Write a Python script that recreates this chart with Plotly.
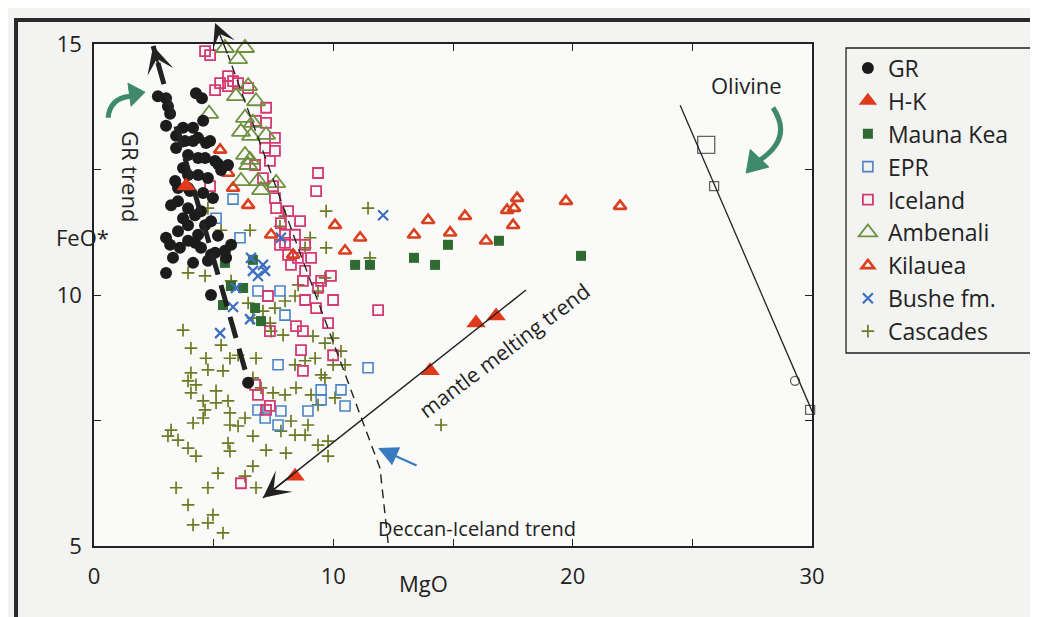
import plotly.graph_objects as go

# ---------------- data (MgO, FeO*) ----------------
gr_mgo = [2.67, 3.01, 3.09, 3.18, 4.26, 4.51, 4.56, 3.01, 3.43, 3.80, 4.35, 4.68, 3.43, 3.93, 4.35, 5.18,
          5.60, 3.72, 3.93, 3.39, 3.93, 4.35, 4.64, 4.01, 3.51, 3.22, 3.93, 4.22, 4.47, 4.89, 4.64, 3.51,
          3.93, 4.35, 3.93, 3.18, 3.01, 3.59, 4.47, 4.22, 4.89, 5.52, 5.73, 5.06, 5.47, 4.76, 3.01, 4.89,
          6.44, 5.31, 4.85, 4.14, 5.06, 3.72, 4.14, 4.76, 4.97, 4.56, 3.72, 3.30, 4.14, 3.51, 5.18]
gr_feo = [13.96, 13.92, 13.76, 13.61, 14.02, 13.92, 13.47, 13.37, 13.17, 13.07, 13.13, 13.03, 12.93, 12.79, 12.73, 12.61,
          12.59, 12.53, 12.39, 12.27, 12.13, 12.39, 12.73, 12.07, 11.87, 11.79, 11.73, 11.59, 11.67, 11.47, 11.39, 11.27,
          11.39, 11.20, 11.08, 11.00, 11.14, 10.94, 10.94, 11.04, 10.80, 10.74, 11.00, 10.84, 10.88, 10.68, 10.44, 10.00,
          8.25, 12.49, 13.07, 13.07, 12.67, 13.33, 13.33, 12.33, 11.93, 12.03, 11.53, 10.74, 10.64, 12.13, 11.18]

hk_mgo = [8.40, 14.04, 15.96, 16.80, 3.85]
hk_feo = [6.39, 8.49, 9.44, 9.58, 12.17]

mk_mgo = [5.47, 6.64, 5.72, 6.23, 5.39, 6.73, 6.98, 10.91, 11.53, 13.37, 14.25, 14.79, 16.92, 20.35]
mk_feo = [10.64, 10.70, 10.18, 10.14, 9.80, 9.74, 9.48, 10.60, 10.60, 10.74, 10.60, 11.00, 11.08, 10.78]

epr_mgo = [5.81, 5.10, 6.10, 6.85, 7.77, 7.98, 7.69, 11.45, 9.49, 9.49, 10.32, 10.49, 6.85, 7.15, 7.81, 7.69, 8.94]
epr_feo = [11.91, 11.53, 11.14, 10.08, 10.08, 9.60, 8.61, 8.55, 8.11, 7.91, 8.11, 7.79, 7.71, 7.55, 7.69, 7.41, 7.69]

ice_mgo = [4.64, 4.85, 5.06, 5.27, 5.60, 5.81, 5.60, 6.02, 6.44, 7.19, 7.19, 6.77, 7.56, 7.56, 7.15, 7.35,
           4.85, 9.36, 9.28, 6.73, 7.06, 7.48, 7.56, 7.61, 8.11, 8.61, 7.81, 7.98, 8.40, 8.82, 7.98, 8.11,
           8.52, 8.23, 8.82, 9.07, 9.90, 9.49, 7.77, 8.73, 9.36, 9.99, 8.82, 9.28, 9.78, 8.44, 8.73, 7.27,
           7.35, 8.65, 9.99, 8.73, 6.73, 6.85, 7.35, 11.87, 6.14, 7.19]
ice_feo = [14.86, 14.78, 14.08, 14.22, 14.36, 14.26, 14.16, 14.22, 14.12, 13.73, 13.43, 13.47, 13.13, 12.87, 12.93, 12.67,
           12.17, 12.43, 12.07, 12.59, 12.33, 12.17, 11.93, 11.73, 11.67, 11.47, 11.43, 11.20, 11.20, 11.00, 11.04, 10.80,
           10.74, 10.60, 10.48, 10.74, 10.38, 10.28, 11.00, 10.28, 10.14, 9.90, 9.90, 9.74, 9.44, 9.38, 9.28, 9.98,
           9.28, 8.90, 8.80, 8.49, 8.21, 8.01, 7.79, 9.70, 6.25, 7.71]

amb_mgo = [6.31, 6.02, 5.47, 6.44, 5.93, 6.77, 4.81, 6.31, 6.64, 6.14, 7.19, 6.56, 6.31, 6.52, 6.85, 7.61, 6.98, 6.44, 6.14]
amb_feo = [14.92, 14.70, 14.92, 14.16, 13.96, 13.86, 13.61, 13.53, 13.43, 13.25, 13.19, 13.17, 12.79, 12.69, 12.27, 12.23, 12.09, 12.59, 12.27]

kil_mgo = [5.27, 5.60, 5.81, 6.44, 7.40, 8.32, 10.07, 11.12, 10.49, 13.37, 13.96, 14.88, 15.50, 16.38, 17.26, 17.55, 17.68, 17.51, 19.72, 21.98]
kil_feo = [12.89, 12.43, 12.13, 11.79, 11.20, 10.80, 11.39, 11.14, 10.88, 11.20, 11.49, 11.24, 11.57, 11.08, 11.69, 11.73, 11.93, 11.39, 11.87, 11.77]

bushe_mgo = [12.08, 7.81, 6.56, 7.06, 6.64, 7.15, 6.85, 5.93, 5.81, 6.52, 5.27]
bushe_feo = [11.59, 11.14, 10.74, 10.60, 10.48, 10.48, 10.38, 10.14, 9.76, 9.52, 9.24]

casc_mgo = [4.76, 5.31, 6.52, 7.77, 7.98, 9.70, 11.45, 9.03, 8.82, 9.70, 3.93, 4.64, 5.73, 8.53, 9.36, 9.65, 11.53,
            6.44, 7.98, 8.40, 7.56, 6.64, 7.06, 7.36, 7.40, 7.90, 3.72, 4.05, 4.68, 5.31, 5.68, 6.02, 6.77, 4.05,
            4.76, 5.39, 3.93, 4.26, 4.05, 4.56, 5.10, 5.60, 6.64, 6.98, 7.48, 7.98, 8.40, 8.82, 9.15, 9.24, 9.65,
            9.99, 8.44, 9.07, 9.65, 9.99, 10.49, 10.32, 9.49, 10.07, 5.10, 4.64, 5.68, 6.31, 4.56, 4.14, 3.22,
            3.09, 3.51, 5.68, 6.02, 6.64, 3.93, 4.26, 5.60, 5.68, 7.19, 8.02, 9.36, 9.78, 5.18, 6.64, 6.31, 3.43,
            4.76, 6.77, 3.93, 4.97, 4.14, 4.76, 5.39, 8.40, 8.82, 8.23, 7.81, 9.36, 8.94, 14.50, 9.78]
casc_feo = [11.73, 11.29, 11.29, 11.37, 11.57, 11.67, 11.73, 11.14, 10.94, 10.94, 10.44, 10.38, 10.28, 10.20, 10.08, 10.34, 10.74,
            9.84, 9.88, 9.98, 9.74, 9.54, 9.68, 9.44, 9.28, 9.20, 9.30, 8.94, 8.74, 9.00, 8.74, 8.80, 8.74, 8.45,
            8.51, 8.49, 8.29, 8.21, 8.05, 7.89, 8.09, 7.89, 8.35, 8.15, 8.05, 8.01, 8.61, 8.69, 9.18, 8.74, 9.04,
            9.14, 8.15, 8.01, 8.35, 8.61, 8.61, 8.88, 8.41, 7.95, 7.85, 7.71, 7.65, 7.55, 7.55, 7.45, 7.31,
            7.19, 7.11, 7.41, 7.39, 7.19, 6.95, 6.79, 7.05, 6.89, 6.91, 6.85, 7.01, 6.79, 6.45, 6.59, 6.39, 6.16,
            6.16, 6.16, 5.82, 5.62, 5.42, 5.46, 5.26, 7.21, 7.21, 7.49, 7.29, 7.81, 7.41, 7.41, 7.09]

# olivine compositions and control line
oliv_mgo = [25.58, 25.91, 29.29, 29.92]
oliv_feo = [12.99, 12.17, 8.29, 7.71]
oliv_line_mgo = [24.49, 30.09]
oliv_line_feo = [13.78, 7.59]

# trend lines (tail ... tip)
gr_trend_mgo = [6.31, 2.47]
gr_trend_feo = [8.51, 14.96]
deccan_trend_mgo = [12.29, 11.95, 8.53, 5.60, 5.06]
deccan_trend_feo = [5.06, 6.55, 10.94, 14.78, 15.42]
mantle_trend_mgo = [18.05, 7.06]
mantle_trend_feo = [10.10, 5.96]

x_ticks = [0, 5, 10, 15, 20, 25, 30]
x_ticktext = ["0", "", "10", "", "20", "", "30"]
y_ticks = [5, 7.5, 10, 12.5, 15]
y_ticktext = ["5", "", "10", "", "15"]

FONT = "Open Sans"

fig = go.Figure()

def add(name, x, y, symbol, color, size, lw=0, rank=1):
    fig.add_trace(go.Scatter(
        x=x, y=y, mode="markers", name=name, legendrank=rank, cliponaxis=False,
        marker=dict(symbol=symbol, color=color, size=size,
                    line=dict(width=lw, color=color)),
    ))

add("Cascades", casc_mgo, casc_feo, "cross-thin-open", "#6b7a25", 9, 1.7, 9)
add("EPR", epr_mgo, epr_feo, "square-open", "#4a84c6", 10, 1.6, 4)
add("Iceland", ice_mgo, ice_feo, "square-open", "#d43a70", 10, 1.8, 5)
add("Ambenali", amb_mgo, amb_feo, "triangle-up-open", "#6e9140", 16, 1.8, 6)
add("Mauna Kea", mk_mgo, mk_feo, "square", "#2f6a33", 10, 0, 3)
add("Bushe fm.", bushe_mgo, bushe_feo, "x-thin-open", "#3d6fbf", 10, 2.2, 8)
add("Kilauea", kil_mgo, kil_feo, "triangle-up-open", "#d8401f", 11, 2.6, 7)
add("GR", gr_mgo, gr_feo, "circle", "#1c1c1c", 12, 0, 1)
add("H-K", hk_mgo, hk_feo, "triangle-up", "#e0391c", 17, 0, 2)

# olivine line and points
fig.add_trace(go.Scatter(x=oliv_line_mgo, y=oliv_line_feo, mode="lines", showlegend=False,
                         line=dict(color="#222", width=1.3), hoverinfo="skip"))
fig.add_trace(go.Scatter(x=oliv_mgo, y=oliv_feo, mode="markers", showlegend=False, cliponaxis=False,
                         marker=dict(symbol=["square-open", "square-open", "circle-open", "square-open"],
                                     size=[17, 9, 9, 9], color="#222", line=dict(width=1.3, color="#222"))))

# trend lines
fig.add_trace(go.Scatter(x=gr_trend_mgo, y=gr_trend_feo, mode="lines", showlegend=False,
                         line=dict(color="#222", width=5, dash="22px,11px"), hoverinfo="skip"))
fig.add_trace(go.Scatter(x=deccan_trend_mgo[:-1], y=deccan_trend_feo[:-1], mode="lines", showlegend=False,
                         line=dict(color="#222", width=1.4, dash="9px,6px"), hoverinfo="skip"))
fig.add_trace(go.Scatter(x=mantle_trend_mgo, y=mantle_trend_feo, mode="lines", showlegend=False,
                         line=dict(color="#222", width=1.5), hoverinfo="skip"))

def head(xs, ys, width, size, frac):
    tx, ty = xs[-1], ys[-1]
    px, py = xs[-2], ys[-2]
    return dict(x=tx, y=ty, ax=tx + (px - tx) * frac, ay=ty + (py - ty) * frac,
                xref="x", yref="y", axref="x", ayref="y", showarrow=True, text="",
                arrowhead=3, arrowwidth=width, arrowsize=size, arrowcolor="#222")

anns = [
    head(gr_trend_mgo, gr_trend_feo, 2.5, 1.8, 0.09),
    head(deccan_trend_mgo, deccan_trend_feo, 1.4, 2.8, 1.0),
    head(mantle_trend_mgo, mantle_trend_feo, 1.5, 3.0, 0.12),
    # blue pointer to Deccan-Iceland trend
    dict(x=11.87, y=6.95, ax=13.54, ay=6.59, xref="x", yref="y", axref="x", ayref="y",
         showarrow=True, text="", arrowhead=2, arrowwidth=2.2, arrowsize=1.8, arrowcolor="#3a7abf"),
    dict(x=17.17, y=8.90, xref="x", yref="y", text="mantle melting trend", showarrow=False,
         textangle=-37, font=dict(family=FONT, size=21, color="#222")),
    dict(x=1.55, y=12.37, xref="x", yref="y", text="GR trend", showarrow=False,
         textangle=90, font=dict(family=FONT, size=22, color="#222")),
    dict(x=27.25, y=14.18, xref="x", yref="y", text="Olivine", showarrow=False,
         font=dict(family=FONT, size=22, color="#222")),
    dict(x=16.0, y=5.35, xref="x", yref="y", text="Deccan-Iceland trend", showarrow=False,
         font=dict(family=FONT, size=20, color="#222")),
    dict(x=-0.056, y=0.615, xref="paper", yref="paper", text="FeO*", showarrow=False,
         font=dict(family=FONT, size=22, color="#222")),
    dict(x=13.75, y=-0.108, xref="x", yref="paper", text="MgO", showarrow=False,
         font=dict(family=FONT, size=22, color="#222")),
]

shapes = [
    # outer frame
    dict(type="rect", xref="paper", yref="paper", x0=-0.1086, x1=1.3357, y0=-0.1474, y1=1.0478,
         line=dict(color="#2a2a2a", width=4), layer="below"),
    # legend box
    dict(type="rect", xref="paper", yref="paper", x0=1.0474, x1=1.3357, y0=0.3845, y1=0.992,
         line=dict(color="#222", width=1.3)),
    # green curved arrows
    dict(type="path", xref="x", yref="y", path="M 0.585,13.53 Q 0.669,13.92 1.504,13.96",
         line=dict(color="#3f8a6c", width=5)),
    dict(type="path", xref="x", yref="y", path="M 2.13,14.04 L 1.42,14.22 L 1.55,13.76 Z",
         fillcolor="#3f8a6c", line=dict(color="#3f8a6c", width=1)),
    dict(type="path", xref="x", yref="y", path="M 28.37,13.73 Q 29.21,13.13 27.83,12.69",
         line=dict(color="#3f8a6c", width=5)),
    dict(type="path", xref="x", yref="y", path="M 27.25,12.43 L 27.42,12.90 L 28.20,12.55 Z",
         fillcolor="#3f8a6c", line=dict(color="#3f8a6c", width=1)),
]

axis_common = dict(showline=True, linecolor="#222", linewidth=1.5, mirror="ticks", ticks="inside",
                   ticklen=7, tickwidth=1.3, tickcolor="#222", showgrid=False, zeroline=False,
                   tickfont=dict(family=FONT, size=22, color="#222"))

fig.update_layout(
    width=1038, height=617, autosize=False,
    margin=dict(l=86, r=234, t=36, b=79),
    paper_bgcolor="#f3f3f1", plot_bgcolor="#fafaf8",
    font=dict(family=FONT, color="#222"),
    xaxis=dict(range=[0, 30], tickvals=x_ticks, ticktext=x_ticktext, ticklabelstandoff=10, **axis_common),
    yaxis=dict(range=[5, 15], tickvals=y_ticks, ticktext=y_ticktext, ticklabelstandoff=6, **axis_common),
    legend=dict(x=1.05, y=0.995, xanchor="left", yanchor="top", bgcolor="rgba(0,0,0,0)",
                font=dict(family=FONT, size=23, color="#222"), tracegroupgap=0, itemsizing="trace"),
    annotations=anns, shapes=shapes, showlegend=True,
)

fig.write_html("out.html")
